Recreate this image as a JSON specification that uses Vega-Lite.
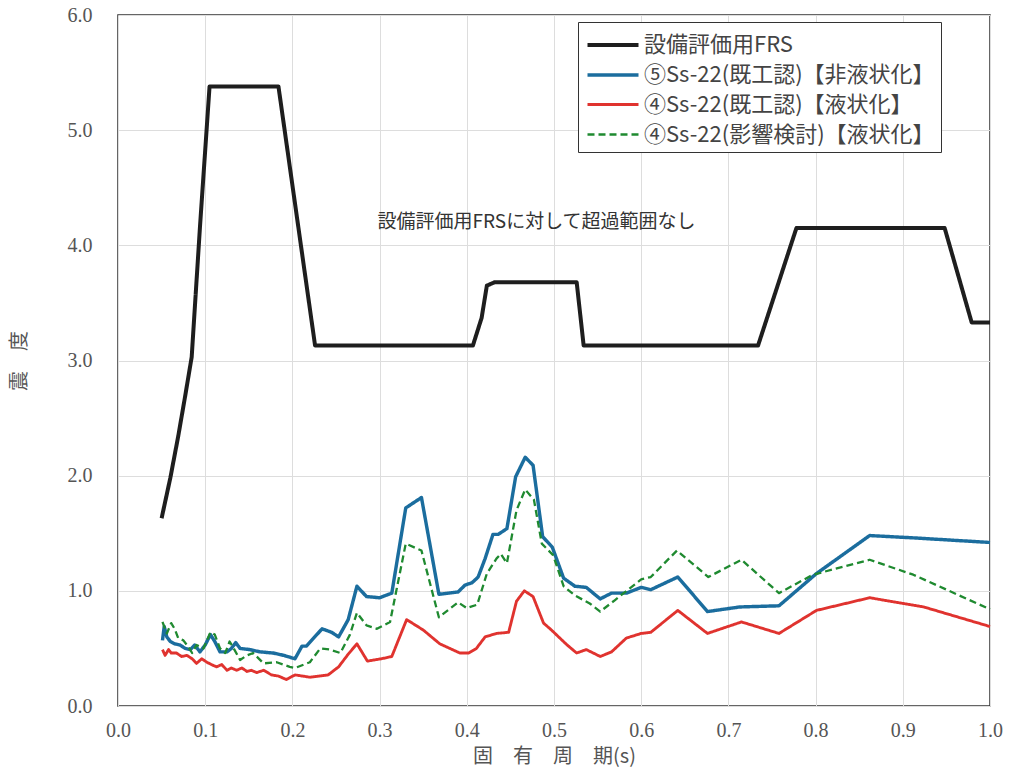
{
  "$schema": "https://vega.github.io/schema/vega-lite/v6.json",
  "width": 872,
  "height": 691,
  "autosize": {"type": "none"},
  "padding": {"left": 118, "top": 15, "right": 21, "bottom": 68},
  "background": "white",
  "config": {
    "view": {"stroke": "#333", "strokeWidth": 1.5},
    "axis": {
      "labelFont": "Liberation Serif",
      "labelFontSize": 20,
      "labelColor": "#555",
      "labelFlush": false,
      "ticks": false,
      "domain": false,
      "grid": true,
      "gridColor": "#dddddd",
      "gridWidth": 1,
      "titleFont": "Noto Sans CJK JP",
      "titleFontSize": 20,
      "titleFontWeight": "normal",
      "titleColor": "#555"
    },
    "legend": {
      "orient": "none",
      "legendX": 460,
      "legendY": 7,
      "fillColor": "white",
      "strokeColor": "#333",
      "padding": 6,
      "labelFont": "Noto Sans CJK JP",
      "labelFontSize": 22,
      "labelColor": "#444",
      "labelLimit": 450,
      "labelOffset": 14,
      "symbolType": "M-1.7,0H1.7",
      "symbolSize": 900,
      "symbolOffset": 12,
      "rowPadding": 2,
      "titleFontSize": 0
    }
  },
  "encoding": {
    "x": {
      "field": "x",
      "type": "quantitative",
      "scale": {"domain": [0, 1], "nice": false, "zero": false},
      "axis": {
        "values": [0, 0.1, 0.2, 0.3, 0.4, 0.5, 0.6, 0.7, 0.8, 0.9, 1.0],
        "format": ".1f",
        "labelPadding": 14,
        "title": "固　有　周　期(s)",
        "titlePadding": 6
      }
    },
    "y": {
      "field": "y",
      "type": "quantitative",
      "scale": {"domain": [0, 6], "nice": false},
      "axis": {
        "values": [0, 1, 2, 3, 4, 5, 6],
        "format": ".1f",
        "labelPadding": 26,
        "title": "震　度",
        "titlePadding": 38
      }
    }
  },
  "layer": [
    {
      "data": {
        "values": [
          {"s": "A", "x": 0.05, "y": 1.63}, {"s": "A", "x": 0.060, "y": 1.98}, {"s": "A", "x": 0.069, "y": 2.34}, {"s": "A", "x": 0.077, "y": 2.69}, {"s": "A", "x": 0.0845, "y": 3.03}, {"s": "A", "x": 0.094, "y": 4.16}, {"s": "A", "x": 0.105, "y": 5.38}, {"s": "A", "x": 0.184, "y": 5.38}, {"s": "A", "x": 0.226, "y": 3.13}, {"s": "A", "x": 0.407, "y": 3.13}, {"s": "A", "x": 0.417, "y": 3.37}, {"s": "A", "x": 0.423, "y": 3.65}, {"s": "A", "x": 0.432, "y": 3.68}, {"s": "A", "x": 0.526, "y": 3.68}, {"s": "A", "x": 0.534, "y": 3.13}, {"s": "A", "x": 0.734, "y": 3.13}, {"s": "A", "x": 0.778, "y": 4.15}, {"s": "A", "x": 0.948, "y": 4.15}, {"s": "A", "x": 0.979, "y": 3.33}, {"s": "A", "x": 1.0, "y": 3.33},

          {"s": "B", "x": 0.051, "y": 0.57}, {"s": "B", "x": 0.053, "y": 0.69}, {"s": "B", "x": 0.056, "y": 0.60}, {"s": "B", "x": 0.060, "y": 0.56}, {"s": "B", "x": 0.065, "y": 0.54}, {"s": "B", "x": 0.071, "y": 0.53}, {"s": "B", "x": 0.077, "y": 0.50}, {"s": "B", "x": 0.083, "y": 0.49}, {"s": "B", "x": 0.088, "y": 0.53}, {"s": "B", "x": 0.094, "y": 0.47}, {"s": "B", "x": 0.100, "y": 0.53}, {"s": "B", "x": 0.106, "y": 0.62}, {"s": "B", "x": 0.111, "y": 0.56}, {"s": "B", "x": 0.117, "y": 0.47}, {"s": "B", "x": 0.125, "y": 0.47}, {"s": "B", "x": 0.130, "y": 0.50}, {"s": "B", "x": 0.135, "y": 0.55}, {"s": "B", "x": 0.140, "y": 0.50}, {"s": "B", "x": 0.151, "y": 0.49}, {"s": "B", "x": 0.163, "y": 0.47}, {"s": "B", "x": 0.178, "y": 0.46}, {"s": "B", "x": 0.190, "y": 0.44}, {"s": "B", "x": 0.203, "y": 0.41}, {"s": "B", "x": 0.211, "y": 0.52}, {"s": "B", "x": 0.216, "y": 0.52}, {"s": "B", "x": 0.234, "y": 0.67}, {"s": "B", "x": 0.245, "y": 0.64}, {"s": "B", "x": 0.253, "y": 0.60}, {"s": "B", "x": 0.264, "y": 0.75}, {"s": "B", "x": 0.274, "y": 1.04}, {"s": "B", "x": 0.285, "y": 0.95}, {"s": "B", "x": 0.300, "y": 0.94}, {"s": "B", "x": 0.314, "y": 0.98}, {"s": "B", "x": 0.330, "y": 1.72}, {"s": "B", "x": 0.348, "y": 1.81}, {"s": "B", "x": 0.368, "y": 0.97}, {"s": "B", "x": 0.390, "y": 0.99}, {"s": "B", "x": 0.398, "y": 1.05}, {"s": "B", "x": 0.406, "y": 1.07}, {"s": "B", "x": 0.413, "y": 1.12}, {"s": "B", "x": 0.421, "y": 1.28}, {"s": "B", "x": 0.430, "y": 1.49}, {"s": "B", "x": 0.436, "y": 1.49}, {"s": "B", "x": 0.446, "y": 1.54}, {"s": "B", "x": 0.456, "y": 1.99}, {"s": "B", "x": 0.467, "y": 2.16}, {"s": "B", "x": 0.476, "y": 2.09}, {"s": "B", "x": 0.487, "y": 1.47}, {"s": "B", "x": 0.498, "y": 1.38}, {"s": "B", "x": 0.511, "y": 1.11}, {"s": "B", "x": 0.524, "y": 1.04}, {"s": "B", "x": 0.537, "y": 1.03}, {"s": "B", "x": 0.553, "y": 0.93}, {"s": "B", "x": 0.566, "y": 0.98}, {"s": "B", "x": 0.583, "y": 0.98}, {"s": "B", "x": 0.600, "y": 1.03}, {"s": "B", "x": 0.611, "y": 1.01}, {"s": "B", "x": 0.642, "y": 1.12}, {"s": "B", "x": 0.676, "y": 0.82}, {"s": "B", "x": 0.713, "y": 0.86}, {"s": "B", "x": 0.758, "y": 0.87}, {"s": "B", "x": 0.801, "y": 1.15}, {"s": "B", "x": 0.862, "y": 1.48}, {"s": "B", "x": 0.912, "y": 1.46}, {"s": "B", "x": 1.0, "y": 1.42},

          {"s": "C", "x": 0.051, "y": 0.49}, {"s": "C", "x": 0.054, "y": 0.44}, {"s": "C", "x": 0.058, "y": 0.49}, {"s": "C", "x": 0.061, "y": 0.46}, {"s": "C", "x": 0.067, "y": 0.46}, {"s": "C", "x": 0.073, "y": 0.43}, {"s": "C", "x": 0.079, "y": 0.44}, {"s": "C", "x": 0.085, "y": 0.41}, {"s": "C", "x": 0.090, "y": 0.37}, {"s": "C", "x": 0.096, "y": 0.41}, {"s": "C", "x": 0.102, "y": 0.38}, {"s": "C", "x": 0.107, "y": 0.36}, {"s": "C", "x": 0.113, "y": 0.34}, {"s": "C", "x": 0.119, "y": 0.36}, {"s": "C", "x": 0.125, "y": 0.31}, {"s": "C", "x": 0.130, "y": 0.33}, {"s": "C", "x": 0.136, "y": 0.31}, {"s": "C", "x": 0.142, "y": 0.33}, {"s": "C", "x": 0.148, "y": 0.30}, {"s": "C", "x": 0.153, "y": 0.31}, {"s": "C", "x": 0.159, "y": 0.29}, {"s": "C", "x": 0.167, "y": 0.31}, {"s": "C", "x": 0.176, "y": 0.27}, {"s": "C", "x": 0.184, "y": 0.26}, {"s": "C", "x": 0.193, "y": 0.23}, {"s": "C", "x": 0.203, "y": 0.27}, {"s": "C", "x": 0.220, "y": 0.25}, {"s": "C", "x": 0.241, "y": 0.27}, {"s": "C", "x": 0.253, "y": 0.34}, {"s": "C", "x": 0.264, "y": 0.45}, {"s": "C", "x": 0.274, "y": 0.54}, {"s": "C", "x": 0.286, "y": 0.39}, {"s": "C", "x": 0.302, "y": 0.41}, {"s": "C", "x": 0.314, "y": 0.43}, {"s": "C", "x": 0.331, "y": 0.75}, {"s": "C", "x": 0.350, "y": 0.66}, {"s": "C", "x": 0.369, "y": 0.54}, {"s": "C", "x": 0.392, "y": 0.46}, {"s": "C", "x": 0.402, "y": 0.46}, {"s": "C", "x": 0.411, "y": 0.50}, {"s": "C", "x": 0.421, "y": 0.60}, {"s": "C", "x": 0.434, "y": 0.63}, {"s": "C", "x": 0.448, "y": 0.64}, {"s": "C", "x": 0.457, "y": 0.91}, {"s": "C", "x": 0.466, "y": 1.00}, {"s": "C", "x": 0.476, "y": 0.95}, {"s": "C", "x": 0.488, "y": 0.72}, {"s": "C", "x": 0.497, "y": 0.66}, {"s": "C", "x": 0.515, "y": 0.53}, {"s": "C", "x": 0.526, "y": 0.46}, {"s": "C", "x": 0.537, "y": 0.49}, {"s": "C", "x": 0.553, "y": 0.43}, {"s": "C", "x": 0.566, "y": 0.47}, {"s": "C", "x": 0.583, "y": 0.59}, {"s": "C", "x": 0.600, "y": 0.63}, {"s": "C", "x": 0.611, "y": 0.64}, {"s": "C", "x": 0.642, "y": 0.83}, {"s": "C", "x": 0.676, "y": 0.63}, {"s": "C", "x": 0.715, "y": 0.73}, {"s": "C", "x": 0.758, "y": 0.63}, {"s": "C", "x": 0.801, "y": 0.83}, {"s": "C", "x": 0.862, "y": 0.94}, {"s": "C", "x": 0.924, "y": 0.86}, {"s": "C", "x": 1.0, "y": 0.69},

          {"s": "D", "x": 0.051, "y": 0.73}, {"s": "D", "x": 0.056, "y": 0.63}, {"s": "D", "x": 0.061, "y": 0.72}, {"s": "D", "x": 0.065, "y": 0.67}, {"s": "D", "x": 0.069, "y": 0.59}, {"s": "D", "x": 0.075, "y": 0.57}, {"s": "D", "x": 0.081, "y": 0.51}, {"s": "D", "x": 0.085, "y": 0.46}, {"s": "D", "x": 0.090, "y": 0.53}, {"s": "D", "x": 0.098, "y": 0.50}, {"s": "D", "x": 0.106, "y": 0.64}, {"s": "D", "x": 0.111, "y": 0.62}, {"s": "D", "x": 0.117, "y": 0.50}, {"s": "D", "x": 0.123, "y": 0.46}, {"s": "D", "x": 0.128, "y": 0.56}, {"s": "D", "x": 0.132, "y": 0.51}, {"s": "D", "x": 0.140, "y": 0.40}, {"s": "D", "x": 0.148, "y": 0.44}, {"s": "D", "x": 0.155, "y": 0.46}, {"s": "D", "x": 0.167, "y": 0.37}, {"s": "D", "x": 0.182, "y": 0.38}, {"s": "D", "x": 0.197, "y": 0.34}, {"s": "D", "x": 0.203, "y": 0.33}, {"s": "D", "x": 0.220, "y": 0.38}, {"s": "D", "x": 0.232, "y": 0.50}, {"s": "D", "x": 0.243, "y": 0.49}, {"s": "D", "x": 0.255, "y": 0.46}, {"s": "D", "x": 0.266, "y": 0.62}, {"s": "D", "x": 0.274, "y": 0.81}, {"s": "D", "x": 0.285, "y": 0.70}, {"s": "D", "x": 0.297, "y": 0.67}, {"s": "D", "x": 0.312, "y": 0.73}, {"s": "D", "x": 0.330, "y": 1.41}, {"s": "D", "x": 0.348, "y": 1.35}, {"s": "D", "x": 0.368, "y": 0.77}, {"s": "D", "x": 0.390, "y": 0.90}, {"s": "D", "x": 0.400, "y": 0.85}, {"s": "D", "x": 0.412, "y": 0.88}, {"s": "D", "x": 0.423, "y": 1.15}, {"s": "D", "x": 0.434, "y": 1.28}, {"s": "D", "x": 0.439, "y": 1.32}, {"s": "D", "x": 0.446, "y": 1.24}, {"s": "D", "x": 0.457, "y": 1.70}, {"s": "D", "x": 0.467, "y": 1.88}, {"s": "D", "x": 0.477, "y": 1.79}, {"s": "D", "x": 0.486, "y": 1.41}, {"s": "D", "x": 0.499, "y": 1.31}, {"s": "D", "x": 0.511, "y": 1.04}, {"s": "D", "x": 0.524, "y": 0.96}, {"s": "D", "x": 0.541, "y": 0.89}, {"s": "D", "x": 0.553, "y": 0.82}, {"s": "D", "x": 0.570, "y": 0.92}, {"s": "D", "x": 0.600, "y": 1.10}, {"s": "D", "x": 0.611, "y": 1.12}, {"s": "D", "x": 0.641, "y": 1.35}, {"s": "D", "x": 0.677, "y": 1.12}, {"s": "D", "x": 0.715, "y": 1.27}, {"s": "D", "x": 0.758, "y": 0.98}, {"s": "D", "x": 0.797, "y": 1.14}, {"s": "D", "x": 0.862, "y": 1.27}, {"s": "D", "x": 0.912, "y": 1.14}, {"s": "D", "x": 1.0, "y": 0.84}
        ]
      },
      "mark": {"type": "line", "strokeJoin": "round", "strokeCap": "butt"},
      "encoding": {
        "color": {
          "field": "s",
          "type": "nominal",
          "scale": {"domain": ["A", "B", "C", "D"], "range": ["#1e1e1e", "#1b6d9e", "#e0332f", "#1f8a30"]},
          "legend": {
            "title": null,
            "labelExpr": "datum.label == 'A' ? '設備評価用FRS' : datum.label == 'B' ? '⑤Ss-22(既工認)【非液状化】' : datum.label == 'C' ? '④Ss-22(既工認)【液状化】' : '④Ss-22(影響検討)【液状化】'"
          }
        },
        "strokeDash": {
          "field": "s",
          "type": "nominal",
          "scale": {"domain": ["A", "B", "C", "D"], "range": [[1, 0], [1, 0], [1, 0], [7, 4]]},
          "legend": {
            "title": null,
            "labelExpr": "datum.label == 'A' ? '設備評価用FRS' : datum.label == 'B' ? '⑤Ss-22(既工認)【非液状化】' : datum.label == 'C' ? '④Ss-22(既工認)【液状化】' : '④Ss-22(影響検討)【液状化】'"
          }
        },
        "strokeWidth": {
          "field": "s",
          "type": "nominal",
          "scale": {"domain": ["A", "B", "C", "D"], "range": [4, 2.3, 2.3, 2.6]},
          "legend": {
            "title": null,
            "labelExpr": "datum.label == 'A' ? '設備評価用FRS' : datum.label == 'B' ? '⑤Ss-22(既工認)【非液状化】' : datum.label == 'C' ? '④Ss-22(既工認)【液状化】' : '④Ss-22(影響検討)【液状化】'"
          }
        }
      }
    },
    {
      "data": {"values": [{"x": 0.48, "y": 4.2, "t": "設備評価用FRSに対して超過範囲なし"}]},
      "mark": {"type": "text", "font": "Noto Sans CJK JP", "fontSize": 19, "color": "#333"},
      "encoding": {"text": {"field": "t", "type": "nominal"}}
    }
  ]
}
